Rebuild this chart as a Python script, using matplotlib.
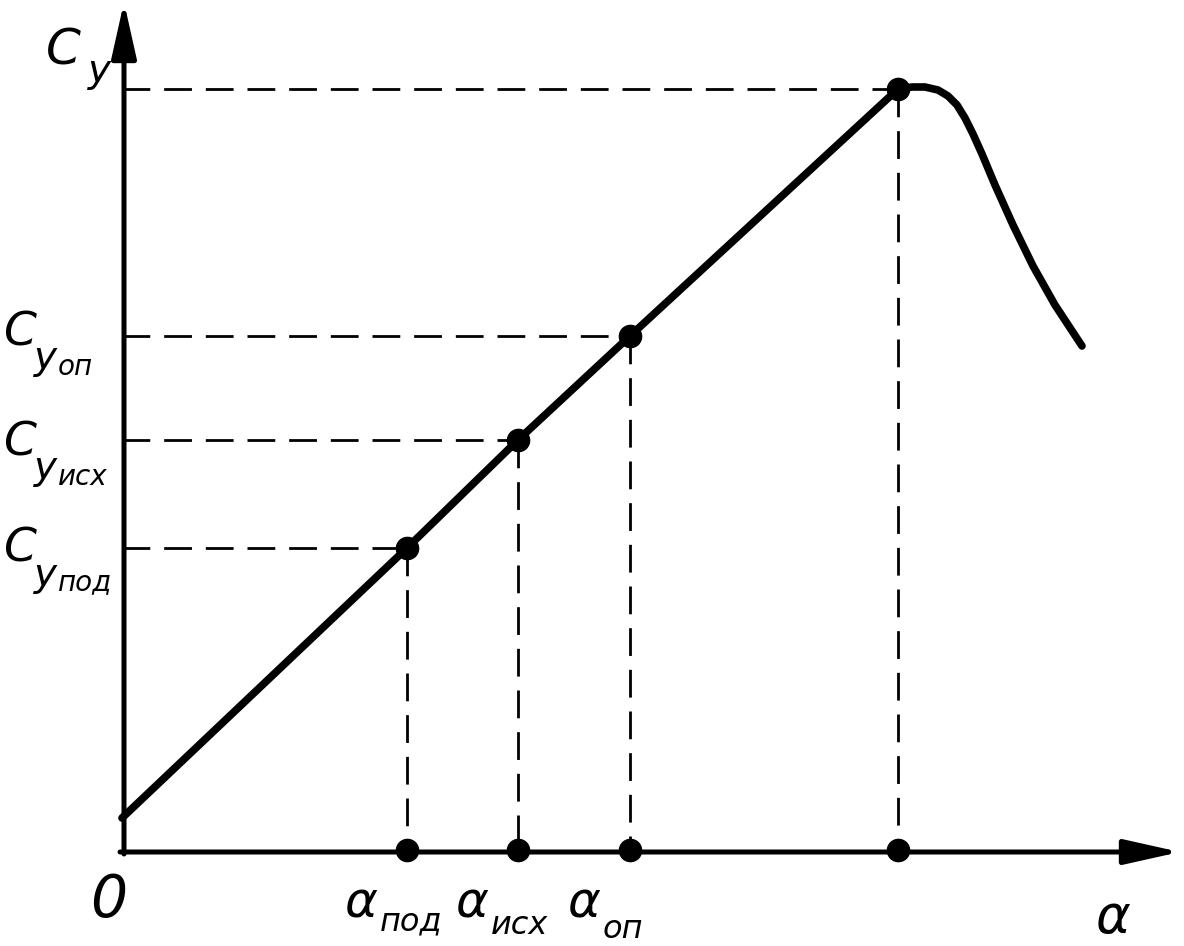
import matplotlib.pyplot as plt

# schematic C_y(alpha) curve, arbitrary units (origin at the axes corner)
alpha_pts = [285, 396, 508, 776]      # alpha_pod, alpha_isx, alpha_op, alpha_max
cy_pts = [302, 410, 514, 761]         # matching C_y values
line_alpha = [0, 285, 396, 508, 776]
line_cy = [32, 302, 410, 514, 761]
stall_alpha = [776, 790, 803, 816, 826, 835, 843, 851, 860, 873, 891, 911, 933, 960]
stall_cy = [761, 763, 763, 760, 754, 745, 732, 716, 696, 665, 625, 584, 545, 504]

ink = '#000000'

fig = plt.figure(figsize=(11.84, 9.46), dpi=100)
ax = fig.add_axes([0, 0, 1, 1])
ax.set_xlim(-122, 1062)
ax.set_ylim(-96, 850)
ax.axis('off')

# axes with arrows
arr = dict(arrowstyle='-|>,head_length=1.7,head_width=0.38', color=ink, lw=3.6,
           mutation_scale=20, shrinkA=0, shrinkB=0)
ax.annotate('', xy=(1058, -2), xytext=(-2, -2), arrowprops=arr)
ax.annotate('', xy=(2, 848), xytext=(2, -4), arrowprops=arr)

# dashed guides
dash = dict(color=ink, lw=2, dashes=(10, 5))
for a, c in zip(alpha_pts, cy_pts):
    ax.plot([0, a], [c, c], **dash)
    ax.plot([a, a], [c, 0], **dash)

# curve
ax.plot(line_alpha, line_cy, color=ink, lw=5.5, solid_capstyle='round')
ax.plot(stall_alpha, stall_cy, color=ink, lw=5.5, solid_capstyle='round',
        solid_joinstyle='round')

# dots
ax.plot(alpha_pts, cy_pts, 'o', color=ink, ms=16)
ax.plot(alpha_pts, [0] * len(alpha_pts), 'o', color=ink, ms=16)


def lab(x, y, s, size):
    ax.text(x, y, s, fontsize=size, style='italic', family='DejaVu Sans',
            ha='left', va='baseline', color=ink)


# C_y labels
lab(-76, 785, 'C', 36)
lab(-34, 768, 'y', 28)

cy_subs = ['под', 'исх', 'оп']
cy_base = [288, 395, 505]
cy_sub_drop = [28, 30, 30]
for sub, base, drop in zip(cy_subs, cy_base, cy_sub_drop):
    lab(-119, base, 'C', 34)
    lab(-88, base - 24, 'y', 28)
    lab(-64, base - drop, sub, 20)

# alpha labels
a_subs = ['под', 'исх', 'оп']
a_sub_base = [-80, -84, -88]
for sub, a, sb in zip(a_subs, alpha_pts[:3], a_sub_base):
    lab(a - 62, -67, 'α', 36)
    lab(a - 27, sb, sub, 23)

lab(-32, -67, '0', 42)
lab(973, -83, 'α', 38)

plt.savefig('out.png', dpi=100)
